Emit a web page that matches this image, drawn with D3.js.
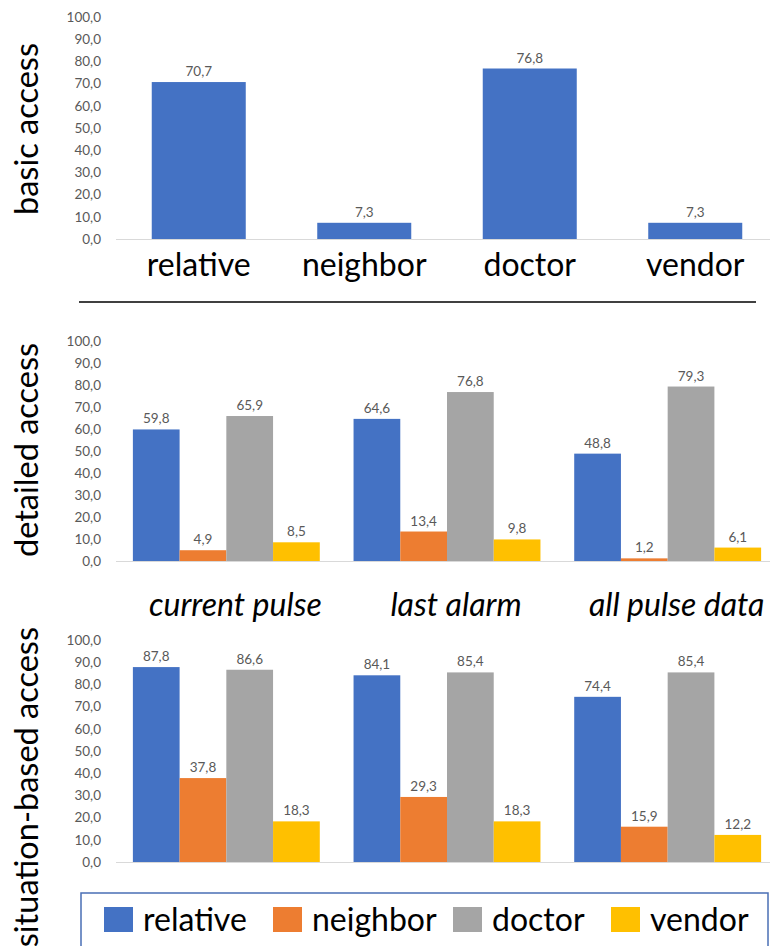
<!DOCTYPE html>
<html><head><meta charset="utf-8">
<script src="https://cdn.jsdelivr.net/npm/d3@7"></script>
<style>body{margin:0;background:#fff;} svg{display:block;}</style>
</head><body>
<svg id="c" width="770" height="946"></svg>
<script>
const roles = ["relative", "neighbor", "doctor", "vendor"];
const basicValues = [70.7, 7.3, 76.8, 7.3];
const dataTypes = ["current pulse", "last alarm", "all pulse data"];
const detailedRelative = [59.8, 64.6, 48.8];
const detailedNeighbor = [4.9, 13.4, 1.2];
const detailedDoctor = [65.9, 76.8, 79.3];
const detailedVendor = [8.5, 9.8, 6.1];
const situationRelative = [87.8, 84.1, 74.4];
const situationNeighbor = [37.8, 29.3, 15.9];
const situationDoctor = [86.6, 85.4, 85.4];
const situationVendor = [18.3, 18.3, 12.2];
const yTicks = [0, 10, 20, 30, 40, 50, 60, 70, 80, 90, 100];
const panelTitles = ["basic access", "detailed access", "situation-based access"];

const colors = {relative: "#4472C4", neighbor: "#ED7D31", doctor: "#A5A5A5", vendor: "#FFC000"};
const fmt = v => d3.format(".1f")(v).replace(".", ",");
const FONT = "Lato, 'Open Sans', sans-serif";
const svg = d3.select("#c");

function yAxis(y) {
  const g = svg.append("g");
  g.selectAll("text").data(yTicks).join("text")
    .attr("x", 101).attr("y", d => y(d)).attr("dy", "0.35em")
    .attr("text-anchor", "end").attr("font-family", FONT).attr("font-size", 13.5)
    .attr("fill", "#595959").text(d => fmt(d));
  svg.append("line").attr("x1", 116).attr("x2", 770).attr("y1", y(0) + 0.5).attr("y2", y(0) + 0.5)
    .attr("stroke", "#d9d9d9").attr("stroke-width", 1);
}

// ---------- Panel 1: basic access ----------
const y1 = d3.scaleLinear().domain([0, 100]).range([239, 17]);
const xb = d3.scaleBand().domain(roles).range([116, 778]).paddingInner(0.432).paddingOuter(0.216);
yAxis(y1);
const basic = roles.map((r, i) => ({r, v: basicValues[i]}));
svg.append("g").selectAll("rect").data(basic).join("rect")
  .attr("x", d => xb(d.r)).attr("width", xb.bandwidth())
  .attr("y", d => y1(d.v)).attr("height", d => y1(0) - y1(d.v))
  .attr("fill", colors.relative);
svg.append("g").selectAll("text").data(basic).join("text")
  .attr("x", d => xb(d.r) + xb.bandwidth() / 2).attr("y", d => y1(d.v) - 6)
  .attr("text-anchor", "middle").attr("font-family", FONT).attr("font-size", 13.5)
  .attr("fill", "#595959").text(d => fmt(d.v));
svg.append("g").selectAll("text").data(roles).join("text")
  .attr("x", d => xb(d) + xb.bandwidth() / 2).attr("y", 276)
  .attr("text-anchor", "middle").attr("font-family", FONT).attr("font-size", 32)
  .attr("fill", "#000").text(d => d);

// separator line
svg.append("line").attr("x1", 79).attr("x2", 756).attr("y1", 302).attr("y2", 302)
  .attr("stroke", "#404040").attr("stroke-width", 2);

// ---------- grouped panels ----------
const xg = d3.scaleBand().domain(dataTypes).range([116, 778]).paddingInner(0.153).paddingOuter(0.0765);
const xs = d3.scaleBand().domain(roles).range([0, xg.bandwidth()]).padding(0);

function groupedPanel(y, series) {
  yAxis(y);
  const rows = [];
  dataTypes.forEach((t, i) => roles.forEach(r => rows.push({t, r, v: series[r][i]})));
  svg.append("g").selectAll("rect").data(rows).join("rect")
    .attr("x", d => xg(d.t) + xs(d.r)).attr("width", xs.bandwidth())
    .attr("y", d => y(d.v)).attr("height", d => y(0) - y(d.v))
    .attr("fill", d => colors[d.r]);
  svg.append("g").selectAll("text").data(rows).join("text")
    .attr("x", d => xg(d.t) + xs(d.r) + xs.bandwidth() / 2).attr("y", d => y(d.v) - 6)
    .attr("text-anchor", "middle").attr("font-family", FONT).attr("font-size", 13.5)
    .attr("fill", "#595959").text(d => fmt(d.v));
}

const y2 = d3.scaleLinear().domain([0, 100]).range([561, 341]);
groupedPanel(y2, {relative: detailedRelative, neighbor: detailedNeighbor, doctor: detailedDoctor, vendor: detailedVendor});

// group labels
svg.append("g").selectAll("text").data(dataTypes).join("text")
  .attr("x", d => xg(d) + xg.bandwidth() / 2 + 9).attr("y", 616)
  .attr("text-anchor", "middle").attr("font-family", FONT).attr("font-style", "italic")
  .attr("font-size", 32).attr("fill", "#000").text(d => d);

const y3 = d3.scaleLinear().domain([0, 100]).range([862, 640]);
groupedPanel(y3, {relative: situationRelative, neighbor: situationNeighbor, doctor: situationDoctor, vendor: situationVendor});

// panel titles (rotated)
const titlePos = [{y: 129, anchor: "middle"}, {y: 450, anchor: "middle"}, {y: 627, anchor: "end"}];
panelTitles.forEach((t, i) => {
  svg.append("text").attr("transform", `translate(38,${titlePos[i].y}) rotate(-90)`)
    .attr("text-anchor", titlePos[i].anchor).attr("font-family", FONT).attr("font-size", 32.5)
    .attr("fill", "#000").text(t);
});

// ---------- legend ----------
svg.append("rect").attr("x", 81).attr("y", 893).attr("width", 687).attr("height", 80)
  .attr("fill", "#fff").attr("stroke", "#4a6fb5").attr("stroke-width", 1.5);
const legendX = d3.scaleOrdinal().domain(roles).range([104, 273, 453, 611]);
const lg = svg.append("g").selectAll("g").data(roles).join("g")
  .attr("transform", d => `translate(${legendX(d)},907)`);
lg.append("rect").attr("width", 29).attr("height", 25).attr("fill", d => colors[d]);
lg.append("text").attr("x", 39).attr("y", 24).attr("font-family", FONT).attr("font-size", 32)
  .attr("fill", "#000").text(d => d);
</script>
</body></html>
